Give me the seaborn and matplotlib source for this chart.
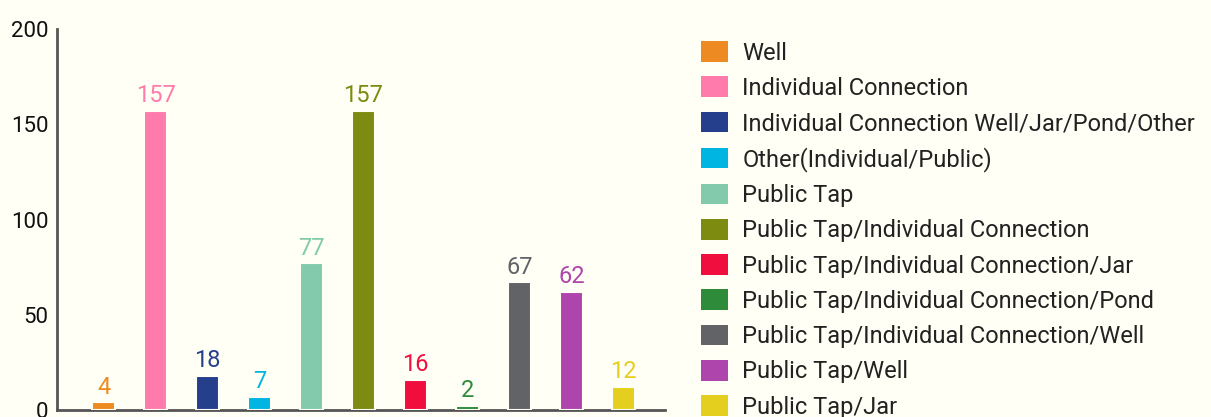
import matplotlib
matplotlib.use("Agg")
import matplotlib.pyplot as plt
import matplotlib.patches as mpatches
import seaborn as sns
import pandas as pd

# water sources and household counts
sources = [
    "Well",
    "Individual Connection",
    "Individual Connection Well/Jar/Pond/Other",
    "Other(Individual/Public)",
    "Public Tap",
    "Public Tap/Individual Connection",
    "Public Tap/Individual Connection/Jar",
    "Public Tap/Individual Connection/Pond",
    "Public Tap/Individual Connection/Well",
    "Public Tap/Well",
    "Public Tap/Jar",
]
counts = [4, 157, 18, 7, 77, 157, 16, 2, 67, 62, 12]
colors = [
    "#ee8a22", "#ff7bac", "#263f8c", "#00b5e2", "#82caab", "#7d8b10",
    "#ef0e3e", "#2e8b3a", "#626366", "#ae45ad", "#e5cf1e",
]
yticks = [0, 50, 100, 150, 200]

BG = "#fffff5"

sns.set_theme(style="white")
plt.rcParams["font.family"] = ["Roboto", "DejaVu Sans"]

df = pd.DataFrame({"source": sources, "count": counts})
palette = dict(zip(sources, colors))

fig = plt.figure(figsize=(12.11, 4.17), dpi=100, facecolor=BG)
ax = fig.add_axes([0.047, 0.0168, 0.502, 0.913])
ax.set_facecolor(BG)

sns.barplot(data=df, x="source", y="count", hue="source", palette=palette,
            order=sources, hue_order=sources, dodge=False, legend=False,
            width=0.44, saturation=1, ax=ax, zorder=3)

# value labels in the bar colour
for bar, val, col in zip(ax.patches, counts, colors):
    bar.set_edgecolor(BG)
    bar.set_linewidth(1.5)
    ax.text(bar.get_x() + bar.get_width() / 2, val + 2, str(val),
            ha="center", va="bottom", color=col, fontsize=17)

ax.set_xlim(-0.9, 10.8)
ax.set_ylim(0, 200)
ax.set_yticks(yticks)
ax.set_yticklabels([str(t) for t in yticks], fontsize=16, color="#111111")
ax.set_xticks([])
ax.set_xlabel("")
ax.set_ylabel("")
ax.tick_params(axis="y", length=0, pad=6)
for side in ["top", "right"]:
    ax.spines[side].set_visible(False)
for side in ["left", "bottom"]:
    ax.spines[side].set_color("#555555")
    ax.spines[side].set_linewidth(2)
ax.spines["bottom"].set_zorder(2)

handles = [mpatches.Patch(facecolor=c, edgecolor="none") for c in colors]
leg = fig.legend(handles, sources, loc="upper left",
                 bbox_to_anchor=(0.571, 0.924), frameon=False,
                 fontsize=17, handlelength=1.15, handleheight=0.97,
                 handletextpad=0.6, labelspacing=0.5, borderaxespad=0)
for t in leg.get_texts():
    t.set_color("#222222")

fig.savefig("out.png", dpi=100, facecolor=BG)
